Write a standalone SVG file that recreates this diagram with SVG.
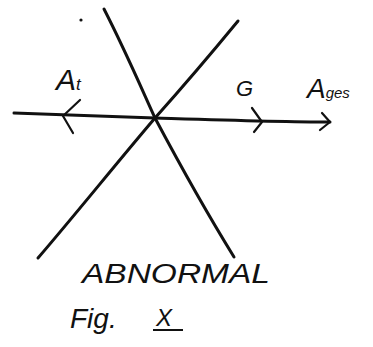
<svg xmlns="http://www.w3.org/2000/svg" width="373" height="347" viewBox="0 0 373 347">
<style>
.ln{fill:none;stroke:#111;stroke-width:3;stroke-linecap:round;stroke-linejoin:round}
.ar{fill:none;stroke:#111;stroke-width:2.2;stroke-linecap:round;stroke-linejoin:round}
.t{font-family:"Liberation Sans",Arial,sans-serif;font-style:italic;fill:#111}
</style>
<rect width="373" height="347" fill="#fff"/>
<g id="connectors">
<path class="ln" d="M104,9 C125,50 140,85 155,118 C180,165 205,210 234,257"/>
<path class="ln" d="M238,21 C210,55 180,90 155,118 C115,165 75,215 38,258"/>
<path class="ln" d="M14,113 C60,115 110,116 155,118 C220,120 280,122 330,122"/>
<path class="ar" d="M80,100 L63,116 L73,133"/>
<path class="ar" d="M252,108 L262,122 L254,132"/>
<path class="ar" d="M322,113 L330,122 L320,130"/>
<circle cx="81" cy="20" r="1.6" fill="#111"/>
</g>
<g id="label-At">
<text class="t" x="56" y="90" font-size="30">A<tspan font-size="17">t</tspan></text>
</g>
<g id="label-G">
<text class="t" x="236" y="96" font-size="22">G</text>
</g>
<g id="label-Ages">
<text class="t" x="307" y="98" font-size="28">A<tspan font-size="15">ges</tspan></text>
</g>
<g id="label-abnormal">
<text class="t" x="82" y="283" font-size="28" textLength="188" lengthAdjust="spacingAndGlyphs">ABNORMAL</text>
</g>
<g id="label-fig">
<text class="t" x="70" y="328" font-size="28">Fig.</text>
<text class="t" x="156" y="326" font-size="24">X</text>
<line x1="153" y1="330" x2="183" y2="330" stroke="#111" stroke-width="2"/>
</g>
</svg>
